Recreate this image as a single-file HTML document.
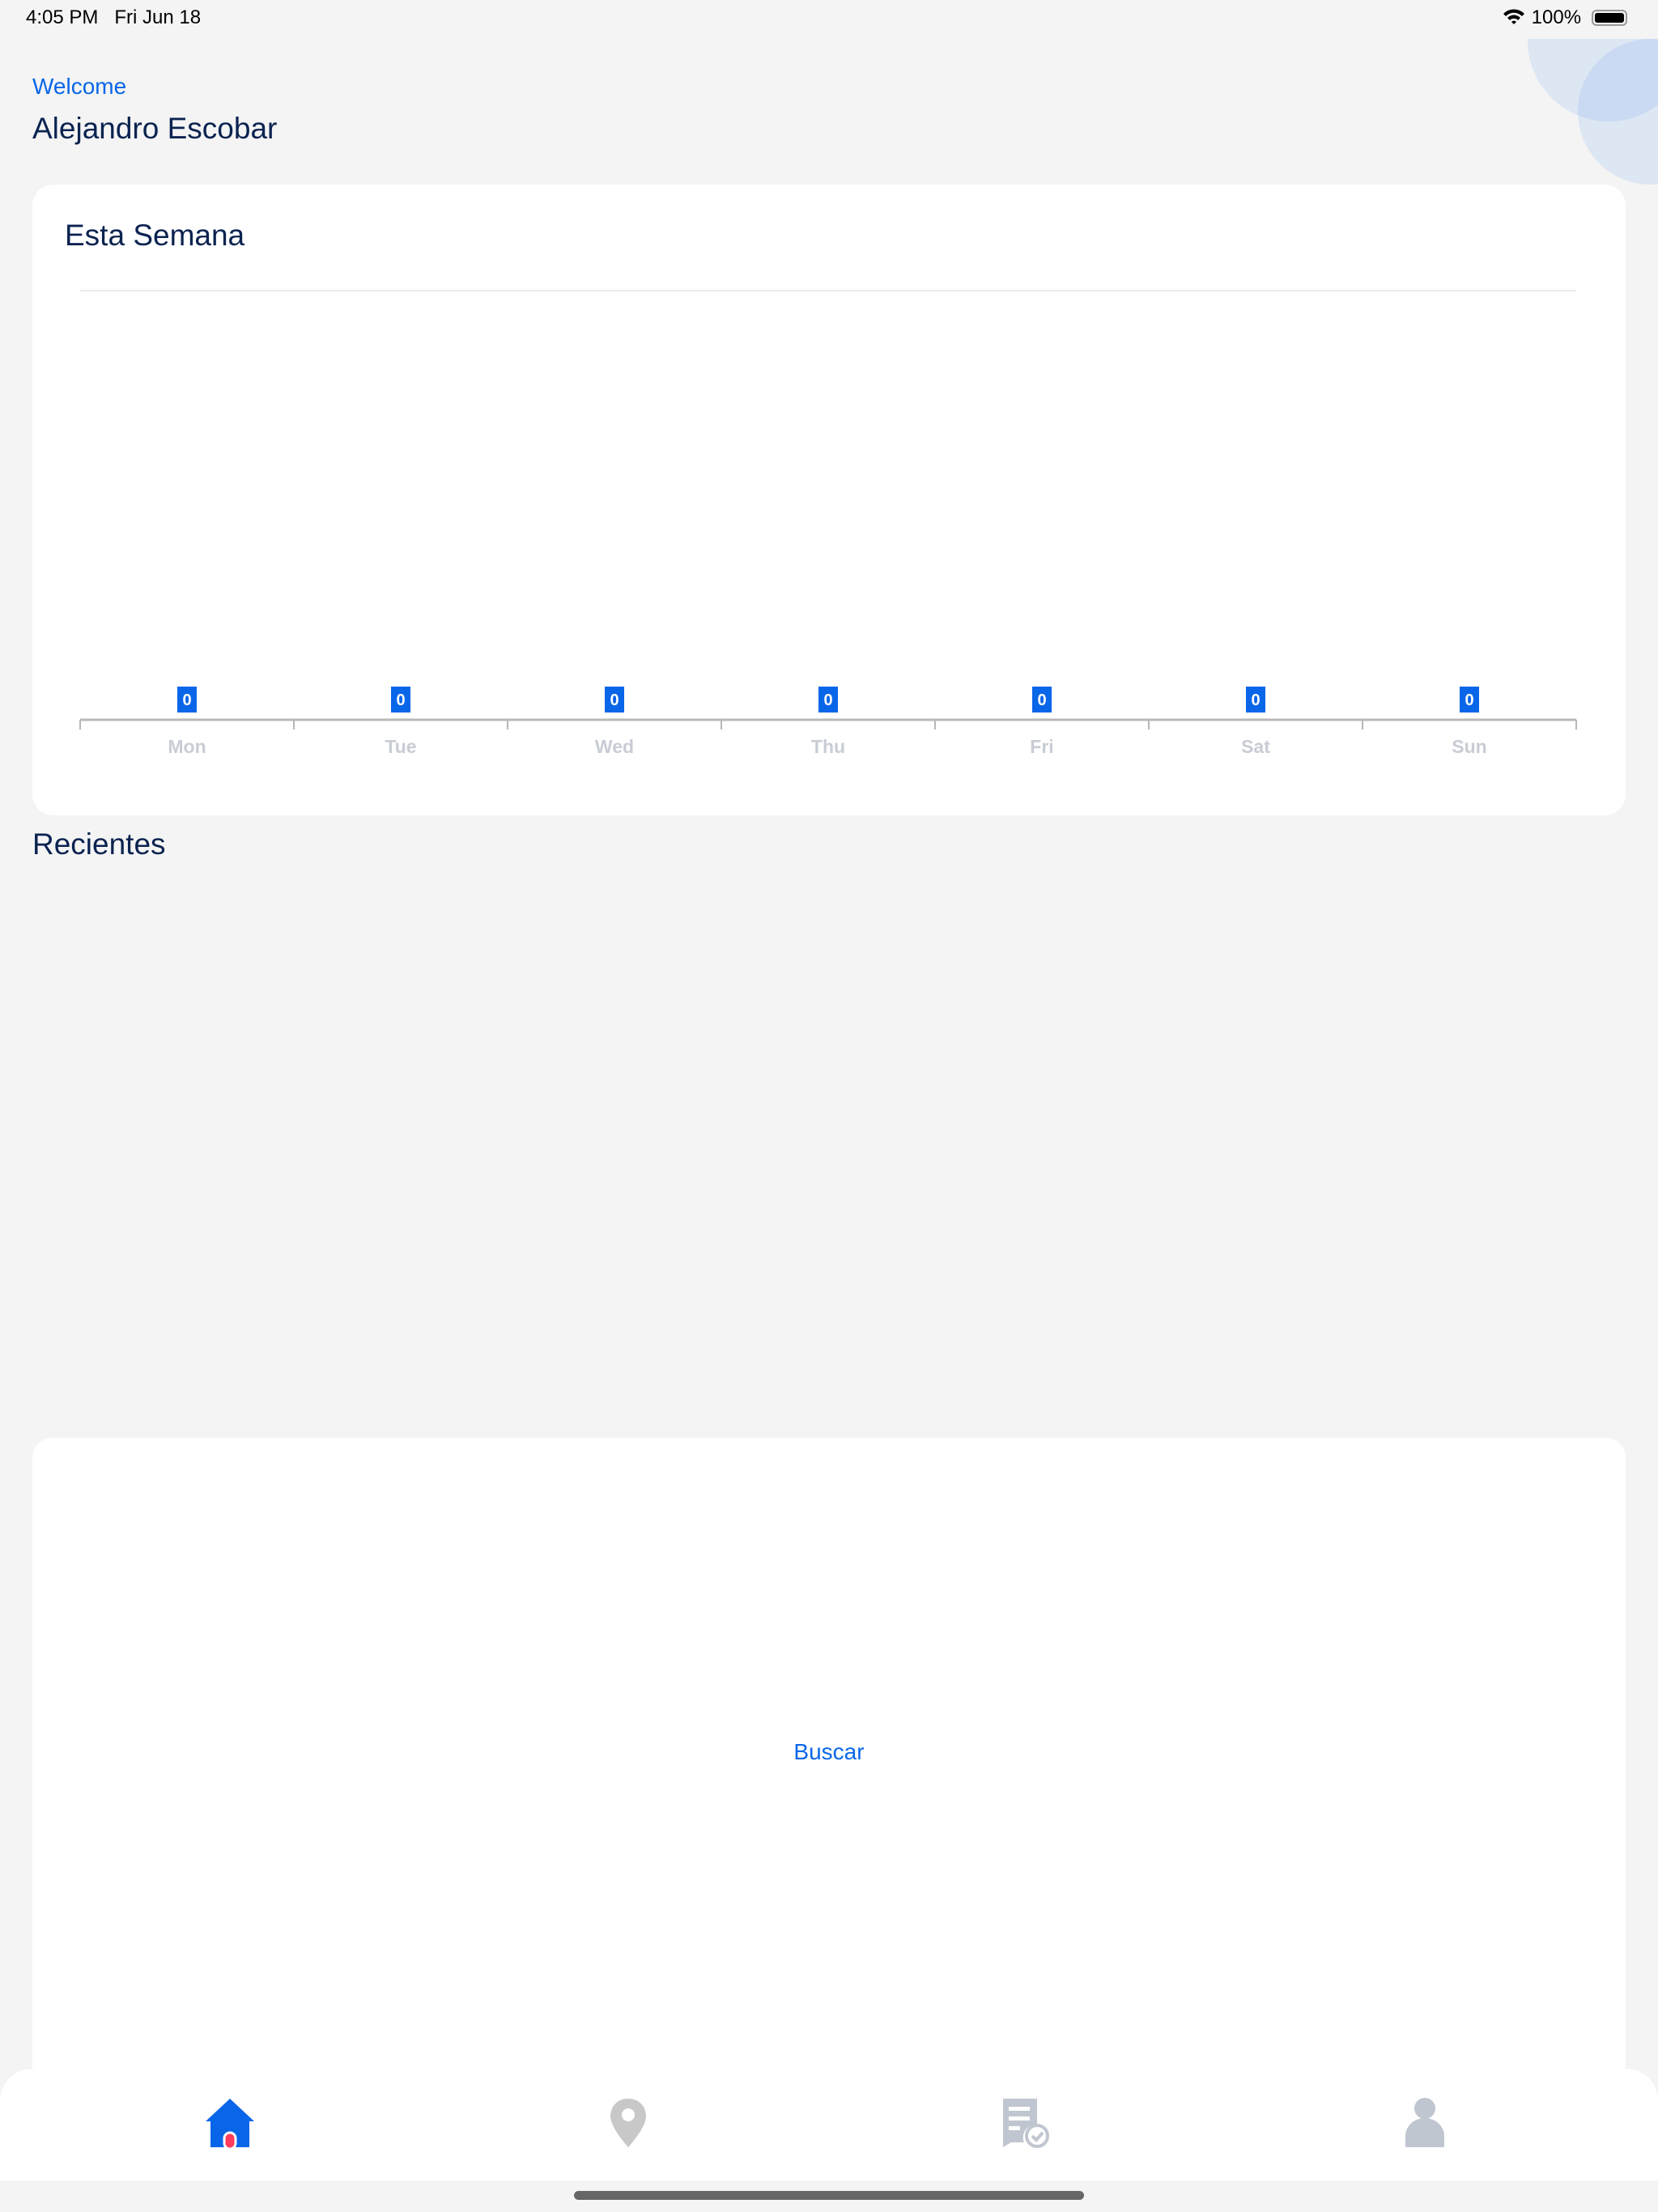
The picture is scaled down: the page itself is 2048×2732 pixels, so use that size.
<!DOCTYPE html>
<html><head><meta charset="utf-8"><style>
body{margin:0;width:2048px;height:2732px;background:#f4f4f4;font-family:"Liberation Sans",sans-serif;position:relative;overflow:hidden}
.a{position:absolute}
</style></head><body>
<div class="a" style="left:32px;top:8px;font-size:24px;color:#000">4:05 PM&nbsp;&nbsp;&nbsp;Fri Jun 18</div>
<div class="a" style="left:1855px;top:8px;font-size:24px;color:#000">
<svg width="30" height="24" viewBox="0 0 30 24" style="vertical-align:-3px"><path d="M2 9 A18 18 0 0 1 28 9 L25 12 A14 14 0 0 0 5 12Z M7 14 A11 11 0 0 1 23 14 L20 17 A7 7 0 0 0 10 17Z M12 19 L15 22 L18 19 A4 4 0 0 0 12 19Z" fill="#000"/></svg> 100%</div>
<div class="a" style="left:1966px;top:12px;width:44px;height:20px;border:2px solid #999;border-radius:6px;box-sizing:border-box;padding:2px"><div style="background:#000;width:100%;height:100%;border-radius:3px"></div></div>
<svg class="a" style="left:1880px;top:48px" width="168" height="180">
<defs><clipPath id="c"><rect width="168" height="180"/></clipPath></defs>
<g clip-path="url(#c)"><circle cx="107" cy="2" r="100" fill="#dde6f3"/><circle cx="159" cy="90" r="90" fill="#dde6f3"/></g>
<clipPath id="c2"><circle cx="107" cy="2" r="100"/></clipPath>
<circle cx="159" cy="90" r="90" fill="#c9daf2" clip-path="url(#c2)"/>
</svg>
<div class="a" style="left:40px;top:91px;font-size:28px;color:#0a66e8">Welcome</div>
<div class="a" style="left:40px;top:138px;font-size:37px;color:#0b2350">Alejandro Escobar</div>
<div class="a" style="left:40px;top:228px;width:1968px;height:779px;background:#fff;border-radius:26px"></div>
<div class="a" style="left:80px;top:270px;font-size:37px;color:#0b2350">Esta Semana</div>
<svg class="a" id="chart" style="left:0;top:0" width="2048" height="1000"></svg>
<div class="a" style="left:40px;top:1022px;font-size:37px;color:#0b2350">Recientes</div>
<div class="a" style="left:40px;top:1776px;width:1968px;height:800px;background:#fff;border-radius:24px"></div>
<div class="a" style="left:924px;top:2148px;width:200px;text-align:center;font-size:28px;color:#0a66e8">Buscar</div>
<div class="a" style="left:0;top:2555px;width:2048px;height:138px;background:#fff;border-radius:40px 40px 0 0"></div>
<svg class="a" style="left:252px;top:2590px" width="64" height="64" viewBox="0 0 64 64"><path d="M32 2 L62 30 L56 30 L56 62 L8 62 L8 30 L2 30Z" fill="#0a66e8"/><rect x="25" y="44" width="14" height="20" rx="7" fill="#ff3b5c" stroke="#fff" stroke-width="3"/></svg>
<svg class="a" style="left:752px;top:2590px" width="48" height="64" viewBox="0 0 48 64"><path d="M24 2 C10 2 2 12 2 24 C2 38 24 62 24 62 C24 62 46 38 46 24 C46 12 38 2 24 2Z" fill="#c8c8c8"/><circle cx="24" cy="22" r="8" fill="#fff"/></svg>
<svg class="a" style="left:1237px;top:2590px" width="64" height="64" viewBox="0 0 64 64"><path d="M2 2 H44 V34 A16 16 0 0 0 28 56 H12 L2 62Z" fill="#c0c6d0"/><rect x="9" y="12" width="26" height="5" fill="#fff"/><rect x="9" y="24" width="26" height="5" fill="#fff"/><rect x="9" y="36" width="14" height="5" fill="#fff"/><circle cx="44" cy="48" r="13" fill="#fff" stroke="#c0c6d0" stroke-width="4"/><path d="M38 48 L43 53 L51 44" stroke="#c0c6d0" stroke-width="4" fill="none"/></svg>
<svg class="a" style="left:1734px;top:2590px" width="52" height="64" viewBox="0 0 52 64"><circle cx="26" cy="14" r="13" fill="#c0c6d0"/><path d="M2 62 V48 A24 22 0 0 1 50 48 V62Z" fill="#c0c6d0"/></svg>
<div class="a" style="left:709px;top:2706px;width:630px;height:11px;border-radius:6px;background:#666"></div>
<script>
const days=["Mon","Tue","Wed","Thu","Fri","Sat","Sun"];
const values=[0,0,0,0,0,0,0];
const yMax=10;
const svg=document.getElementById('chart');const NS='http://www.w3.org/2000/svg';
const x0=99,x1=1947,yTop=359,yBase=889,bw=(x1-x0)/days.length;
const xs=i=>x0+bw*(i+0.5);const ys=v=>yBase-(v/yMax)*(yBase-yTop);
function mk(t,a){const e=document.createElementNS(NS,t);for(const k in a)e.setAttribute(k,a[k]);svg.appendChild(e);return e;}
let g=mk('line',{x1:x0,x2:x1,y1:yTop,y2:yTop,stroke:'#ececec','stroke-width':2});


let ax=mk('line',{x1:x0,x2:x1,y1:yBase,y2:yBase,stroke:'#b8b8b8','stroke-width':3});


for(let i=0;i<=days.length;i++){const t=mk('line',{x1:x0+bw*i,x2:x0+bw*i,y1:yBase,y2:yBase+12,stroke:'#b8b8b8','stroke-width':2});

}
days.forEach((d,i)=>{const cx=xs(i),y=ys(values[i]);
const b=mk('rect',{x:cx-12,y:y-41,width:24,height:32,fill:'#0a66e8'});


const tv=mk('text',{x:cx,y:y-18,'text-anchor':'middle','font-size':20,'font-weight':'bold',fill:'#fff','font-family':'Liberation Sans'});tv.textContent=values[i];


const tl=mk('text',{x:cx,y:930,'text-anchor':'middle','font-size':23,'font-weight':'bold',fill:'#c8ccd4','font-family':'Liberation Sans'});tl.textContent=d;

});
</script>
</body></html>
